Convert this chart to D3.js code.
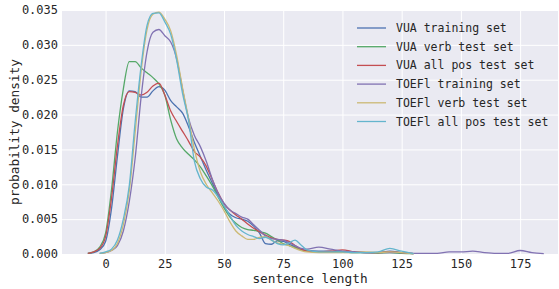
<!DOCTYPE html>
<meta charset="utf-8">
<script src="https://d3js.org/d3.v7.min.js"></script>
<style>
  body { margin: 0; background: #fff; }
  text { font-family: "DejaVu Sans Mono", monospace; fill: #262626; }
</style>
<div id="my_dataviz"></div>
<script>
  const lengths = [-7.5, -5, -2.5, 0, 2.5, 5, 7.5, 10, 12.5, 15, 17.5, 20, 22.5, 25, 27.5, 30, 32.5, 35, 37.5,
    40, 42.5, 45, 47.5, 50, 52.5, 55, 57.5, 60, 62.5, 65, 67.5, 70, 72.5, 75, 77.5, 80, 82.5, 85,
    90, 95, 100, 105, 110, 115, 120, 125, 130];
  // the TOEFl training set runs further to the right
  const lengthsLong = lengths.concat([135, 140, 145, 150, 155, 160, 165, 170, 175, 180, 185]);

  const vuaTrain = [0.0001, 0.0002, 0.0006, 0.0018, 0.0065, 0.0140, 0.0208, 0.0234, 0.0233, 0.0225, 0.0225, 0.0234, 0.0240, 0.0235, 0.0220,
    0.0211, 0.0202, 0.0183, 0.0160, 0.0140, 0.0120, 0.0102, 0.0084, 0.0068, 0.0057, 0.0052, 0.0050, 0.0047, 0.0040, 0.0030,
    0.0015, 0.0014, 0.0019, 0.0018, 0.0014, 0.0010, 0.0007, 0.0005, 0.0004, 0.0004, 0.0003, 0.0003, 0.0002, 0.0002, 0.0004, 0.0002, 0.00005];
  const vuaVerb = [0.0001, 0.0003, 0.0010, 0.0030, 0.0092, 0.0175, 0.0237, 0.0276, 0.0276, 0.0267, 0.0260, 0.0253, 0.0244, 0.0228, 0.0192,
    0.0165, 0.0152, 0.0143, 0.0135, 0.0125, 0.0112, 0.0098, 0.0082, 0.0066, 0.0053, 0.0044, 0.0038, 0.0035, 0.0034, 0.0032,
    0.0030, 0.0025, 0.0020, 0.0015, 0.0012, 0.0009, 0.0006, 0.0004, 0.0003, 0.0003, 0.0003, 0.0002, 0.0002, 0.0001, 0.0002, 0.0001, 0.00005];
  const vuaAllPos = [0.0001, 0.0003, 0.0008, 0.0025, 0.0080, 0.0155, 0.0213, 0.0233, 0.0232, 0.0228, 0.0232, 0.0241, 0.0245, 0.0228, 0.0205,
    0.0190, 0.0176, 0.0162, 0.0147, 0.0139, 0.0126, 0.0107, 0.0088, 0.0072, 0.0063, 0.0056, 0.0050, 0.0043, 0.0037, 0.0032,
    0.0027, 0.0023, 0.0021, 0.0020, 0.0018, 0.0012, 0.0007, 0.0004, 0.0003, 0.0004, 0.0006, 0.0003, 0.0002, 0.0002, 0.0003, 0.0002, 0.00005];
  const toeflTrain = [null, null, 0.0001, 0.0002, 0.0005, 0.0012, 0.0033, 0.0075, 0.0138, 0.0225, 0.0290, 0.0318, 0.0322, 0.0313, 0.0304,
    0.0280, 0.0236, 0.0195, 0.0170, 0.0154, 0.0133, 0.0108, 0.0087, 0.0073, 0.0063, 0.0058, 0.0053, 0.0050, 0.0042, 0.0034,
    0.0026, 0.0022, 0.0021, 0.0020, 0.0016, 0.0012, 0.0008, 0.0007, 0.0010, 0.0007, 0.0004, 0.0003, 0.0002, 0.0002, 0.0002, 0.0002, 0.0001,
    0.0001, 0.0001, 0.0003, 0.0003, 0.0004, 0.0002, 0.0001, 0.0001, 0.0005, 0.0002, 0.00005];
  const toeflVerb = [null, null, 0.0001, 0.0002, 0.0005, 0.0015, 0.0042, 0.0090, 0.0175, 0.0262, 0.0322, 0.0344, 0.0347, 0.0337, 0.0320,
    0.0285, 0.0238, 0.0195, 0.0150, 0.0118, 0.0100, 0.0088, 0.0076, 0.0062, 0.0046, 0.0033, 0.0026, 0.0021, 0.0021, 0.0024,
    0.0025, 0.0020, 0.0016, 0.0014, 0.0012, 0.0008, 0.0005, 0.0003, 0.0002, 0.0002, 0.0002, 0.0002, 0.0003, 0.0002, 0.0003, 0.0002, 0.00005];
  const toeflAllPos = [null, null, 0.0001, 0.0003, 0.0007, 0.0020, 0.0050, 0.0098, 0.0190, 0.0270, 0.0328, 0.0345, 0.0346, 0.0333, 0.0315,
    0.0278, 0.0230, 0.0192, 0.0133, 0.0108, 0.0096, 0.0092, 0.0082, 0.0069, 0.0055, 0.0041, 0.0033, 0.0028, 0.0025, 0.0022,
    0.0024, 0.0020, 0.0015, 0.0013, 0.0016, 0.0020, 0.0013, 0.0006, 0.0003, 0.0003, 0.0003, 0.0002, 0.0002, 0.0003, 0.0008, 0.0004, 0.00005];

  const seriesNames = ["VUA training set", "VUA verb test set", "VUA all pos test set",
    "TOEFl training set", "TOEFl verb test set", "TOEFl all pos test set"];
  const seriesValues = [vuaTrain, vuaVerb, vuaAllPos, toeflTrain, toeflVerb, toeflAllPos];
  const seriesX = [lengths, lengths, lengths, lengthsLong, lengths, lengths];
  const colors = ["#4C72B0", "#55A868", "#C44E52", "#8172B2", "#CCB974", "#64B5CD"];

  const xTicks = [0, 25, 50, 75, 100, 125, 150, 175];
  const yTicks = [0, 0.005, 0.010, 0.015, 0.020, 0.025, 0.030, 0.035];

  // plot box
  const margin = { top: 10, right: 1, bottom: 35, left: 62 },
    width = 559 - margin.left - margin.right,
    height = 289 - margin.top - margin.bottom;

  const svg = d3.select("#my_dataviz")
    .append("svg")
    .attr("width", 559)
    .attr("height", 289)
    .append("g")
    .attr("transform", `translate(${margin.left},${margin.top})`);

  const x = d3.scaleLinear().domain([-18.4, 191]).range([0, width]);
  const y = d3.scaleLinear().domain([0, 0.035]).range([height, 0]);

  svg.append("rect")
    .attr("width", width)
    .attr("height", height)
    .attr("fill", "#EAEAF2");

  // grid lines
  svg.append("g")
    .call(d3.axisBottom(x).tickValues(xTicks).tickSize(height).tickFormat(""))
    .call(g => g.select(".domain").remove())
    .call(g => g.selectAll("line").attr("stroke", "#fff").attr("stroke-width", 1));
  svg.append("g")
    .call(d3.axisLeft(y).tickValues(yTicks).tickSize(-width).tickFormat(""))
    .call(g => g.select(".domain").remove())
    .call(g => g.selectAll("line").attr("stroke", "#fff").attr("stroke-width", 1));

  // tick labels
  svg.append("g")
    .attr("transform", `translate(0,${height})`)
    .call(d3.axisBottom(x).tickValues(xTicks).tickSize(0).tickPadding(5))
    .call(g => g.select(".domain").remove())
    .call(g => g.selectAll("text").style("font-family", "DejaVu Sans Mono").attr("font-size", 12).attr("fill", "#262626"));
  svg.append("g")
    .call(d3.axisLeft(y).tickValues(yTicks).tickSize(0).tickPadding(4).tickFormat(d3.format(".3f")))
    .call(g => g.select(".domain").remove())
    .call(g => g.selectAll("text").style("font-family", "DejaVu Sans Mono").attr("font-size", 12).attr("fill", "#262626"));

  // density curves
  const line = d3.line()
    .defined(d => d[1] !== null)
    .curve(d3.curveMonotoneX)
    .x(d => x(d[0]))
    .y(d => y(d[1]));

  seriesValues.forEach(function (vals, i) {
    const pts = vals.map((v, j) => [seriesX[i][j], v]);
    svg.append("path")
      .datum(pts)
      .attr("fill", "none")
      .attr("stroke", colors[i])
      .attr("stroke-width", 1.3)
      .attr("d", line);
  });

  // axis titles
  svg.append("text")
    .attr("x", width / 2)
    .attr("y", height + 29)
    .attr("text-anchor", "middle")
    .attr("font-size", 12.75)
    .text("sentence length");
  svg.append("text")
    .attr("transform", `translate(${14 - margin.left},${height / 2}) rotate(-90)`)
    .attr("text-anchor", "middle")
    .attr("dominant-baseline", "central")
    .attr("font-size", 12.75)
    .text("probability density");

  // legend
  const legend = svg.append("g")
    .attr("transform", `translate(${357 - margin.left},${28 - margin.top})`);
  seriesNames.forEach(function (name, i) {
    const row = legend.append("g").attr("transform", `translate(0,${i * 18.7})`);
    row.append("line")
      .attr("x1", 0).attr("x2", 29)
      .attr("stroke", colors[i])
      .attr("stroke-width", 1.3);
    row.append("text")
      .attr("x", 39)
      .attr("dominant-baseline", "central")
      .attr("font-size", 11.5)
      .text(name);
  });
</script>
